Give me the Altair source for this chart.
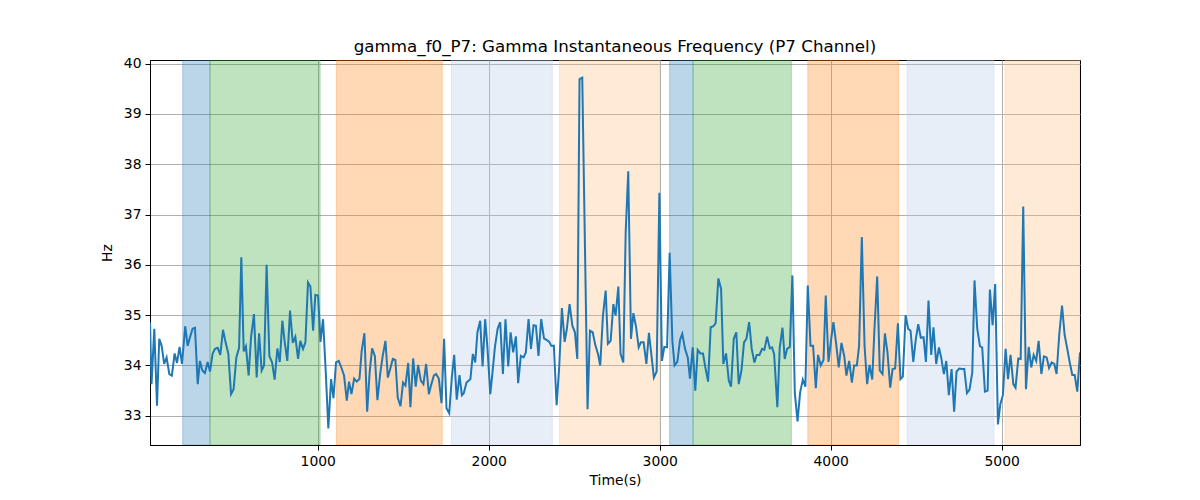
import altair as alt
import pandas as pd

# gamma instantaneous frequency, P7 channel
time_s = [
    19, 28, 44, 60, 73, 87, 102, 116, 132, 147,
    163, 177, 192, 206, 225, 239, 253, 268, 282, 298,
    311, 325, 340, 356, 370, 385, 399, 415, 430, 446,
    461, 477, 493, 508, 524, 540, 553, 567, 580, 596,
    610, 627, 643, 657, 672, 686, 701, 717, 733, 748,
    764, 778, 793, 807, 822, 838, 854, 869, 885, 898,
    914, 928, 943, 957, 973, 986, 1002, 1016, 1031, 1047,
    1062, 1078, 1092, 1107, 1123, 1138, 1154, 1170, 1183, 1197,
    1213, 1228, 1244, 1257, 1273, 1289, 1304, 1318, 1334, 1349,
    1365, 1380, 1396, 1410, 1423, 1439, 1454, 1468, 1484, 1499,
    1513, 1529, 1542, 1558, 1573, 1587, 1603, 1618, 1634, 1650,
    1663, 1679, 1692, 1708, 1724, 1739, 1753, 1769, 1784, 1798,
    1813, 1829, 1843, 1854, 1870, 1884, 1893, 1907, 1921, 1934,
    1950, 1964, 1979, 1993, 2009, 2022, 2036, 2052, 2067, 2083,
    2098, 2114, 2128, 2143, 2159, 2172, 2188, 2204, 2217, 2233,
    2247, 2262, 2276, 2291, 2307, 2323, 2338, 2354, 2366, 2381,
    2397, 2412, 2428, 2444, 2457, 2473, 2489, 2504, 2518, 2531,
    2547, 2578, 2592, 2608, 2623, 2639, 2652, 2668, 2684, 2697,
    2713, 2729, 2742, 2758, 2771, 2787, 2801, 2816, 2832, 2846,
    2861, 2877, 2890, 2906, 2922, 2937, 2953, 2966, 2982, 2998,
    3013, 3027, 3043, 3058, 3074, 3087, 3103, 3119, 3132, 3148,
    3164, 3177, 3193, 3208, 3222, 3238, 3253, 3267, 3283, 3298,
    3314, 3327, 3343, 3359, 3372, 3388, 3404, 3417, 3433, 3448,
    3462, 3478, 3493, 3507, 3523, 3538, 3554, 3567, 3583, 3599,
    3612, 3628, 3644, 3657, 3669, 3688, 3702, 3718, 3731, 3745,
    3761, 3776, 3790, 3806, 3821, 3837, 3852, 3866, 3882, 3897,
    3913, 3926, 3942, 3958, 3971, 3987, 4003, 4016, 4032, 4047,
    4063, 4079, 4092, 4108, 4124, 4137, 4153, 4166, 4182, 4198,
    4213, 4227, 4243, 4256, 4272, 4287, 4303, 4317, 4332, 4348,
    4362, 4377, 4393, 4408, 4422, 4438, 4453, 4467, 4483, 4498,
    4512, 4527, 4543, 4557, 4572, 4588, 4601, 4617, 4633, 4646,
    4662, 4676, 4691, 4707, 4722, 4736, 4752, 4767, 4781, 4797,
    4812, 4828, 4841, 4857, 4873, 4886, 4902, 4918, 4931, 4947,
    4962, 4978, 4992, 5007, 5023, 5037, 5052, 5068, 5081, 5097,
    5111, 5126, 5142, 5158, 5173, 5187, 5202, 5216, 5232, 5247,
    5263, 5277, 5292, 5308, 5321, 5337, 5353, 5368, 5382, 5398,
    5413, 5427, 5442, 5458,
]
freq_hz = [
    34.86, 33.63, 34.73, 33.20, 34.53, 34.39, 34.03, 34.16, 33.83, 33.80,
    34.24, 34.05, 34.37, 34.03, 34.78, 34.39, 34.56, 34.73, 34.75, 33.63,
    34.09, 33.90, 33.85, 34.07, 33.88, 34.23, 34.33, 34.35, 34.21, 34.71,
    34.46, 34.24, 33.43, 33.53, 34.16, 34.35, 36.15, 34.28, 34.38, 33.80,
    34.56, 35.02, 33.76, 34.64, 33.90, 34.00, 36.00, 34.19, 34.06, 33.72,
    34.34, 34.07, 34.89, 34.46, 34.09, 35.09, 34.45, 34.57, 34.13, 34.49,
    34.33, 34.46, 35.65, 35.57, 34.69, 35.40, 35.39, 34.47, 34.92, 33.86,
    32.75, 33.73, 33.35, 34.06, 34.09, 33.96, 33.80, 33.30, 33.68, 33.43,
    33.74, 33.68, 33.73, 34.29, 34.64, 33.08, 33.88, 34.34, 34.19, 33.31,
    33.83, 34.19, 34.49, 33.76, 33.92, 34.13, 34.11, 33.36, 33.19, 33.66,
    33.60, 34.05, 33.17, 34.14, 33.58, 34.01, 33.70, 33.63, 34.03, 33.43,
    33.61, 33.80, 33.83, 33.74, 33.25, 34.53, 33.15, 33.05, 33.76, 34.21,
    33.32, 33.81, 33.41, 33.45, 33.66, 33.70, 33.73, 34.23, 34.06, 34.66,
    34.89, 33.98, 34.92, 34.33, 33.43, 33.86, 34.36, 34.73, 34.86, 33.83,
    34.92, 33.98, 34.66, 34.26, 34.58, 33.65, 34.19, 34.16, 34.26, 34.92,
    34.33, 34.80, 34.79, 34.19, 34.92, 34.54, 34.51, 34.47, 34.39, 34.39,
    33.21, 33.96, 35.14, 34.47, 34.73, 35.22, 34.79, 34.66, 34.13, 39.69,
    39.72, 33.13, 34.69, 34.66, 34.41, 34.23, 34.00, 34.99, 35.49, 34.43,
    34.49, 35.22, 34.99, 35.57, 34.23, 34.06, 36.65, 37.86, 34.53, 35.04,
    34.78, 34.36, 34.46, 34.46, 34.03, 34.65, 34.16, 33.76, 33.88, 37.43,
    34.09, 34.37, 34.36, 36.24, 34.49, 34.00, 34.07, 34.51, 34.63, 34.33,
    34.16, 33.74, 34.36, 33.50, 34.31, 34.24, 34.24, 33.96, 33.68, 34.76,
    34.78, 34.84, 35.73, 35.52, 34.03, 34.24, 33.70, 33.58, 34.53, 34.66,
    33.63, 33.90, 34.46, 34.53, 34.86, 34.33, 34.06, 34.21, 34.21, 34.33,
    34.31, 34.57, 34.34, 34.36, 34.23, 33.17, 34.36, 34.75, 34.13, 34.33,
    34.37, 35.79, 33.46, 32.89, 33.46, 33.72, 33.58, 35.59, 34.39, 34.39,
    33.55, 34.21, 34.00, 34.11, 35.39, 34.07, 34.53, 34.86, 34.43, 33.96,
    34.45, 34.19, 33.80, 34.09, 33.66, 34.00, 34.00, 34.39, 36.55, 34.39,
    33.63, 34.01, 33.72, 34.73, 35.77, 33.90, 33.83, 34.64, 34.26, 33.56,
    33.93, 33.94, 34.84, 33.73, 33.78, 35.00, 34.73, 34.69, 34.07, 34.53,
    34.82, 34.55, 34.56, 34.07, 35.29, 34.21, 34.76, 34.03, 34.36, 34.16,
    33.83, 34.09, 33.41, 33.93, 33.08, 33.88, 33.94, 33.93, 33.93, 33.45,
    33.52, 33.86, 35.69, 34.73, 34.38, 34.36, 33.48, 33.50, 35.51, 34.80,
    35.62, 32.83, 33.23, 33.41, 34.33, 33.73, 34.21, 33.63, 33.56, 34.14,
    34.13, 37.16, 33.53, 34.37, 33.96, 34.21, 34.09, 34.49, 33.83, 34.18,
    34.16, 33.95, 34.06, 34.03, 33.83, 34.63, 35.19, 34.61, 34.36, 34.06,
    33.81, 33.81, 33.48, 34.26,
]

# shaded segments (start, end in seconds) and their stage label
span_start = [210, 370, 1109, 1782, 2414, 3058, 3195, 3866, 4447, 5019]
span_end = [370, 1014, 1728, 2372, 3000, 3195, 3770, 4397, 4955, 5458]
span_stage = ["s0", "s1", "s2", "s3", "s4", "s0", "s1", "s2", "s3", "s4"]

x_ticks = [1000, 2000, 3000, 4000, 5000]
y_ticks = [33, 34, 35, 36, 37, 38, 39, 40]

STAGE_COLORS = ["#1f77b4", "#2ca02c", "#ff7f0e", "#aec7e8", "#ffbb78"]
LINE_COLOR = "#1f77b4"
FONT = "DejaVu Sans"

series = pd.DataFrame({"time": time_s, "hz": freq_hz})
spans = pd.DataFrame({"start": span_start, "end": span_end, "stage": span_stage})

x_scale = alt.Scale(domain=[19, 5458], nice=False, zero=False)
y_scale = alt.Scale(domain=[32.42, 40.07], nice=False, zero=False)
stage_scale = alt.Scale(domain=["s0", "s1", "s2", "s3", "s4"], range=STAGE_COLORS)

x_axis = alt.Axis(values=x_ticks, format="d", titlePadding=6)
y_axis = alt.Axis(values=y_ticks, format="d", titlePadding=9)

shading = alt.Chart(spans).mark_rect(
    fillOpacity=0.3, strokeOpacity=0.3, strokeWidth=1, clip=True
).encode(
    x=alt.X("start:Q", scale=x_scale, title="Time(s)", axis=x_axis),
    x2="end:Q",
    fill=alt.Fill("stage:N", scale=stage_scale, legend=None),
    stroke=alt.Stroke("stage:N", scale=stage_scale, legend=None),
)

line = alt.Chart(series).mark_line(
    color=LINE_COLOR, strokeWidth=2, clip=True
).encode(
    x=alt.X("time:Q", scale=x_scale, title="Time(s)", axis=x_axis),
    y=alt.Y("hz:Q", scale=y_scale, title="Hz", axis=y_axis),
)

chart = (shading + line).properties(
    width=930,
    height=385,
    autosize=alt.AutoSizeParams(type="none"),
    padding={"left": 142, "top": 52, "right": 112, "bottom": 47},
    title=alt.TitleParams(
        "gamma_f0_P7: Gamma Instantaneous Frequency (P7 Channel)",
        anchor="middle", baseline="bottom", frame="group", offset=-16,
    ),
).configure_view(
    stroke="black", strokeWidth=1
).configure_axis(
    domainColor="black", tickColor="black", labelColor="black", titleColor="black",
    labelFont=FONT, titleFont=FONT, labelFontSize=13.9, titleFontSize=13.9,
    titleFontWeight="normal", tickSize=5, labelPadding=4,
    gridColor="#b0b0b0", gridWidth=1, gridOpacity=1,
).configure_title(
    font=FONT, fontSize=16.7, fontWeight="normal", color="black"
)

chart.save("out.html", embed_options={"renderer": "svg", "actions": False})
